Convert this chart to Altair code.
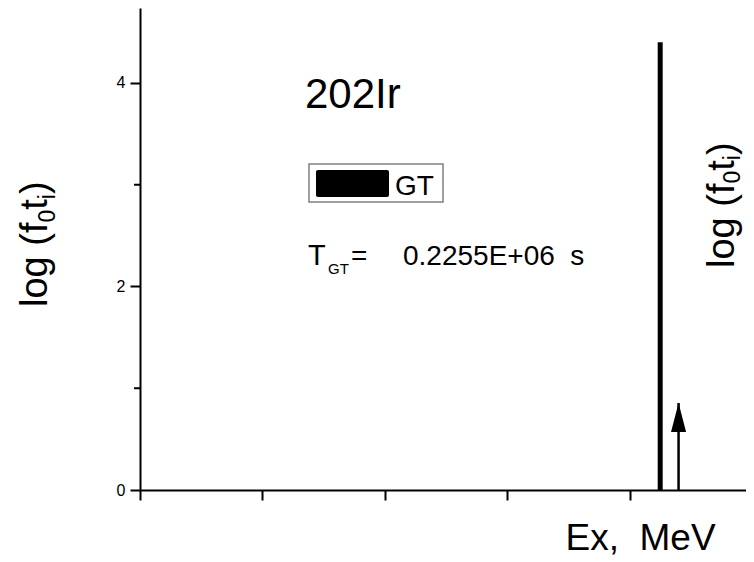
import altair as alt
import pandas as pd

# ---------------- data ----------------
bar_ex = [4.25]          # GT transition position (x units, no labelled scale)
bar_logft = [4.40]       # log(f0 t_i) of GT bar
arrow_ex = [4.40]        # Q-value arrow position
arrow_logft = [0.855]    # arrow tip height
x_ticks = [0, 1, 2, 3, 4, 5]
y_major = [0, 2, 4]
y_minor = [1, 3]
nucleus = ["202Ir"]
legend_label = ["GT"]
half_life_parts = ["T", "GT", "=", "0.2255E+06\u00a0\u00a0s"]
y_title_parts = ["log (f", "0", "t", "i", ")"]
x_title = "Ex,\u00a0\u00a0MeV"

X_DOMAIN = [0, 5]
Y_DOMAIN = [0, 4.737]
W, H = 606, 482
X_RANGE = [0, 612]
FONT = "Liberation Sans"
BLACK = "#000000"

xs = alt.Scale(domain=X_DOMAIN, range=X_RANGE, nice=False, zero=False)
ys = alt.Scale(domain=Y_DOMAIN, nice=False)

x_axis = alt.Axis(values=x_ticks, labels=False, tickSize=10, tickWidth=2,
                  tickColor=BLACK, domainColor=BLACK, domainWidth=2, grid=False,
                  title=x_title, titleFont=FONT, titleFontSize=37,
                  titleFontWeight="normal", titleColor=BLACK, titleX=425, titleY=59,
                  titleAlign="left", titleBaseline="alphabetic", titleAngle=0)
y_axis = alt.Axis(values=y_major, format="d", tickSize=10, tickWidth=2, tickColor=BLACK,
                  domainColor=BLACK, domainWidth=2, grid=False, title=None,
                  labelFont=FONT, labelFontSize=16, labelColor=BLACK, labelPadding=5)

bars_df = pd.DataFrame({"ex": bar_ex, "top": bar_logft, "base": [0.0] * len(bar_ex)})
arrow_df = pd.DataFrame({"ex": arrow_ex, "tip": arrow_logft, "base": [0.0] * len(arrow_ex)})
minor_df = pd.DataFrame({"v": y_minor})

bars = alt.Chart(bars_df).mark_rule(strokeWidth=5, color=BLACK).encode(
    x=alt.X("ex:Q", scale=xs, axis=x_axis),
    y=alt.Y("top:Q", scale=ys, axis=y_axis),
    y2="base:Q",
)

arrow_shaft = alt.Chart(arrow_df).mark_rule(strokeWidth=2.5, color=BLACK).encode(
    x=alt.X("ex:Q", scale=xs), y=alt.Y("tip:Q", scale=ys), y2="base:Q")
arrow_head = alt.Chart(arrow_df).mark_point(
    shape="M0,0L0.52,2L-0.52,2Z", size=841, filled=True, color=BLACK,
    opacity=1, strokeWidth=0).encode(
    x=alt.X("ex:Q", scale=xs), y=alt.Y("tip:Q", scale=ys))

minor_ticks = alt.Chart(minor_df).mark_rule(strokeWidth=2, color=BLACK).encode(
    y=alt.Y("v:Q", scale=ys), x=alt.value(-6), x2=alt.value(0))


def label(s, x, y, size, angle=0):
    return alt.Chart(pd.DataFrame({"t": [s]})).mark_text(
        font=FONT, fontSize=size, color=BLACK, align="left",
        baseline="alphabetic", angle=angle).encode(
        x=alt.value(x), y=alt.value(y), text="t:N")


# Arial advance widths (em) for the glyphs used in the rotated titles
ADV = {"l": .222, "o": .556, "g": .556, " ": .278, "(": .333, "f": .278,
       "0": .556, "t": .278, "i": .222, ")": .333}


def rotated_title(y_start, x_main, x_sub):
    layers = []
    y = y_start
    for k, part in enumerate(y_title_parts):
        sub = k % 2 == 1
        size = 23 if sub else 38
        layers.append(label(part, x_sub if sub else x_main, y, size, angle=270))
        y -= sum(ADV[c] for c in part) * size
    return layers


legend_box = alt.Chart(pd.DataFrame({"k": legend_label})).mark_rect(
    fill="white", stroke="#808080", strokeWidth=1.5).encode(
    x=alt.value(169), x2=alt.value(303), y=alt.value(156), y2=alt.value(194))
legend_swatch = alt.Chart(pd.DataFrame({"k": legend_label})).mark_rect(
    fill=BLACK, cornerRadius=2).encode(
    x=alt.value(176), x2=alt.value(249), y=alt.value(162), y2=alt.value(189))

texts = [
    label(nucleus[0], 165, 100, 42),
    label(legend_label[0], 255, 187, 28),
    label(half_life_parts[0], 168, 257, 29),
    label(half_life_parts[1], 188, 266, 15),
    label(half_life_parts[2], 211, 257, 28),
    label(half_life_parts[3], 263, 257, 28),
]
texts += rotated_title(299, -93, -85)
texts += rotated_title(260, 594, 600)

chart = alt.layer(
    bars, arrow_shaft, arrow_head, minor_ticks, legend_box, legend_swatch, *texts
).properties(
    width=W, height=H,
    autosize=alt.AutoSizeParams(type="none"),
    padding={"left": 132, "top": 0, "right": 0, "bottom": 66},
).configure_view(stroke=None)

chart.save("out.html", embed_options={"renderer": "svg", "actions": False})
